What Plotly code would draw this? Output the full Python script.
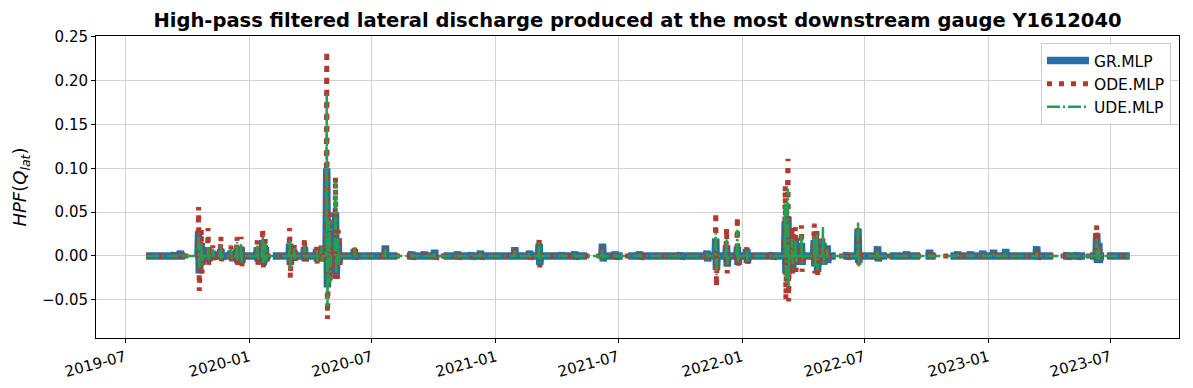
import pandas as pd
import plotly.graph_objects as go

# series span (baseline 0 outside the bursts)
start_date = "2019-08-01"
end_date = "2023-07-30"

# burst events: date, then peak up / peak down per model
burst_dates = [
    "2019-09-12", "2019-09-21", "2019-10-18", "2019-10-22", "2019-11-01", "2019-11-08",
    "2019-11-20", "2019-12-05", "2019-12-14", "2019-12-20", "2020-01-13", "2020-01-21",
    "2020-01-25", "2020-03-01", "2020-03-08", "2020-03-23", "2020-04-10", "2020-04-17",
    "2020-04-25", "2020-04-29", "2020-05-08", "2020-05-12", "2020-06-05", "2020-07-21",
    "2020-08-29", "2020-09-17", "2020-10-02", "2020-11-05", "2020-11-26", "2020-12-09",
    "2021-01-29", "2021-02-20", "2021-03-06", "2021-04-09", "2021-04-28", "2021-06-08",
    "2021-06-27", "2021-08-02", "2021-08-30", "2021-09-14", "2021-10-02", "2021-11-10",
    "2021-11-23", "2021-12-09", "2021-12-25", "2022-01-08", "2022-02-15", "2022-03-06",
    "2022-03-10", "2022-03-16", "2022-03-21", "2022-03-30", "2022-04-18", "2022-04-22",
    "2022-05-01", "2022-05-07", "2022-06-05", "2022-06-22", "2022-07-21", "2022-09-02",
    "2022-10-06", "2022-11-17", "2022-12-06", "2022-12-24", "2023-01-09", "2023-01-27",
    "2023-03-14", "2023-04-28", "2023-05-13", "2023-06-11", "2023-06-14",
]
gr_hi = [
    .004, .006, .028, .015, .010, .006, .008, .006, .008, .010, .010, .018,
    .010, .014, .006, .010, .008, .008, .100, .030, .050, .020, .008, .012,
    .005, .005, .007, .005, .004, .006, .010, .006, .014, .004, .005, .014,
    .005, .005, .003, .003, .004, .006, .020, .012, .010, .008, .004, .040,
    .045, .025, .020, .015, .018, .020, .015, .012, .004, .031, .011, .005,
    .007, .005, .005, .006, .007, .008, .011, .004, .004, .026, .015,
]
gr_lo = [
    -.002, -.003, -.020, -.010, -.006, -.004, -.004, -.003, -.008, -.008, -.006, -.010,
    -.005, -.010, -.004, -.006, -.006, -.006, -.036, -.020, -.026, -.010, -.004, -.002,
    -.004, -.003, -.004, -.004, -.004, -.004, -.003, -.004, -.010, -.003, -.004, -.006,
    -.004, -.004, -.003, -.003, -.004, -.006, -.016, -.012, -.010, -.008, -.004, -.020,
    -.020, -.015, -.010, -.010, -.012, -.018, -.010, -.008, -.004, -.008, -.006, -.003,
    -.003, -.003, -.003, -.003, -.003, -.003, -.004, -.004, -.004, -.008, -.008,
]
ode_hi = [
    .002, .003, .056, .030, .032, .012, .022, .012, .022, .022, .018, .032,
    .020, .032, .014, .020, .012, .012, .234, .050, .090, .030, .012, .010,
    .003, .003, .005, .003, .002, .004, .008, .004, .022, .003, .003, .010,
    .004, .003, .002, .002, .002, .004, .050, .032, .045, .010, .002, .080,
    .111, .033, .033, .035, .037, .030, .020, .010, .002, .032, .008, .003,
    .004, .003, .003, .003, .004, .004, .006, .002, .002, .035, .012,
]
ode_lo = [
    -.001, -.002, -.040, -.020, -.010, -.006, -.006, -.008, -.012, -.014, -.010, -.013,
    -.008, -.025, -.006, -.008, -.010, -.008, -.072, -.030, -.030, -.010, -.003, -.002,
    -.002, -.002, -.003, -.002, -.002, -.002, -.002, -.003, -.013, -.002, -.002, -.004,
    -.002, -.002, -.001, -.001, -.002, -.003, -.035, -.020, -.012, -.012, -.002, -.050,
    -.052, -.020, -.018, -.018, -.020, -.024, -.012, -.006, -.002, -.010, -.004, -.002,
    -.002, -.002, -.002, -.002, -.002, -.002, -.002, -.002, -.002, -.005, -.006,
]
ude_hi = [
    .001, .002, .026, .015, .012, .008, .014, .008, .016, .014, .012, .022,
    .015, .018, .010, .012, .008, .010, .185, .040, .085, .020, .010, .008,
    .002, .002, .003, .002, .002, .003, .006, .003, .015, .002, .002, .008,
    .003, .002, .001, .001, .001, .003, .026, .020, .030, .008, .001, .060,
    .077, .020, .018, .024, .022, .025, .033, .008, .001, .039, .007, .002,
    .003, .002, .002, .002, .003, .003, .004, .001, .001, .020, .010,
]
ude_lo = [
    -.001, -.001, -.014, -.010, -.004, -.003, -.003, -.004, -.006, -.008, -.004, -.008,
    -.005, -.016, -.003, -.004, -.006, -.006, -.058, -.030, -.020, -.010, -.002, -.001,
    -.001, -.001, -.002, -.001, -.001, -.001, -.001, -.002, -.008, -.001, -.001, -.003,
    -.001, -.001, -.001, -.001, -.001, -.002, -.022, -.010, -.008, -.006, -.001, -.030,
    -.035, -.010, -.008, -.008, -.012, -.016, -.010, -.004, -.001, -.012, -.003, -.001,
    -.001, -.001, -.001, -.001, -.001, -.001, -.001, -.001, -.001, -.004, -.004,
]

# periods where the GR.MLP curve is missing
gr_gap_start = ["2019-09-28", "2020-01-28", "2020-08-08", "2020-10-08", "2021-05-16",
                "2021-07-08", "2022-05-20", "2022-08-04", "2022-09-22", "2022-10-15",
                "2023-04-07", "2023-05-25", "2023-06-22"]
gr_gap_end = ["2019-10-13", "2020-02-05", "2020-08-22", "2020-10-15", "2021-06-04",
              "2021-07-16", "2022-06-04", "2022-08-08", "2022-09-30", "2022-11-06",
              "2023-04-22", "2023-06-01", "2023-06-26"]


def build_series(hi, lo, gap_start=(), gap_end=()):
    pts = {pd.Timestamp(start_date): 0.0, pd.Timestamp(end_date): 0.0}
    one = pd.Timedelta(days=1)
    for d, h, l in zip(burst_dates, hi, lo):
        d = pd.Timestamp(d)
        pts.setdefault(d - one, 0.0)
        pts[d] = h
        pts[d + one] = l
        pts.setdefault(d + 2 * one, 0.0)
    for a, b in zip(gap_start, gap_end):
        a, b = pd.Timestamp(a), pd.Timestamp(b)
        pts[a] = 0.0
        pts[a + (b - a) / 2] = None
        pts[b] = 0.0
    return pd.Series(pts).sort_index()


gr = build_series(gr_hi, gr_lo, gr_gap_start, gr_gap_end)
ode = build_series(ode_hi, ode_lo)
ude = build_series(ude_hi, ude_lo)

fig = go.Figure()
fig.add_trace(go.Scatter(
    x=gr.index, y=gr.values, name="GR.MLP", mode="lines",
    line=dict(color="#2670a6", width=7.5), connectgaps=False,
))
fig.add_trace(go.Scatter(
    x=ode.index, y=ode.values, name="ODE.MLP", mode="lines",
    line=dict(color="#b03a2e", width=5, dash="5px,7px"),
))
fig.add_trace(go.Scatter(
    x=ude.index, y=ude.values, name="UDE.MLP", mode="lines",
    line=dict(color="#23a055", width=2.5, dash="13px,3px,2px,3px"),
))

# page body adds an 8px offset, so the figure is 8px smaller on each leading edge
fig.update_layout(
    width=1185, height=380,
    margin=dict(l=88, r=14, t=28, b=50, autoexpand=False),
    paper_bgcolor="white", plot_bgcolor="white",
    font=dict(family="DejaVu Sans", size=15, color="black"),
    title=dict(
        text="<b>High-pass filtered lateral discharge produced at the most downstream gauge Y1612040</b>",
        x=0.5, xref="paper", xanchor="center", y=0.968, yref="container", yanchor="middle",
        font=dict(size=19.5, color="black"),
    ),
    showlegend=True,
    legend=dict(
        x=0.9926, y=0.977, xanchor="right", yanchor="top",
        bgcolor="rgba(255,255,255,0.85)", bordercolor="#cccccc", borderwidth=1,
        font=dict(size=15.5), tracegroupgap=0, itemwidth=42,
    ),
)
fig.update_xaxes(
    range=["2019-05-18 19:00", "2023-10-11"], automargin=False,
    tick0="2019-07-01", dtick="M6", tickformat="%Y-%m", tickangle=-15,
    showgrid=True, gridcolor="#d3d3d3", gridwidth=0.8,
    showline=True, linecolor="black", linewidth=1, mirror=True,
    ticks="outside", ticklen=4, tickcolor="black", zeroline=False,
)
fig.update_yaxes(
    range=[-0.0936, 0.2511], automargin=False,
    tick0=0, dtick=0.05, tickformat=".2f",
    showgrid=True, gridcolor="#d3d3d3", gridwidth=0.8,
    showline=True, linecolor="black", linewidth=1, mirror=True,
    ticks="outside", ticklen=4, tickcolor="black", zeroline=False,
    title=dict(text="<i>HPF</i>(<i>Q</i><sub><i>lat</i></sub>)", font=dict(size=18), standoff=10),
)

fig.write_html("out.html")
